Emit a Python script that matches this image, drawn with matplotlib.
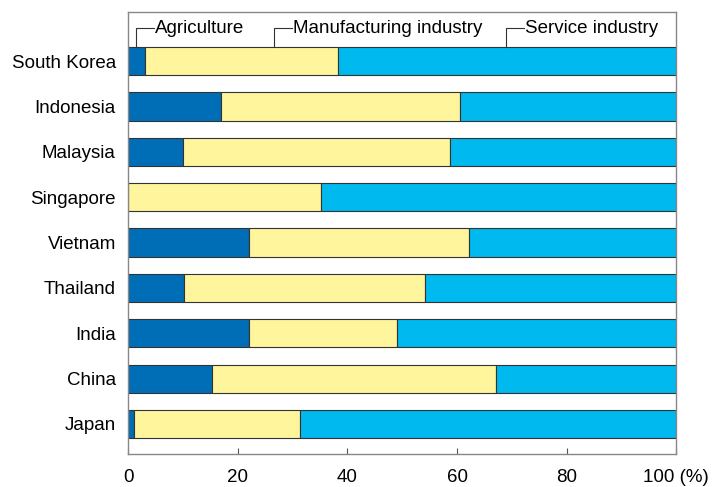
import matplotlib
matplotlib.use("Agg")
from matplotlib import pyplot as plt

plt.rcParams['font.family'] = ['Liberation Sans', 'DejaVu Sans']

countries = ['Japan', 'China', 'India', 'Thailand', 'Vietnam',
             'Singapore', 'Malaysia', 'Indonesia', 'South Korea']
agriculture = [1.1, 15.2, 22.1, 10.1, 22.1, 0.0, 10.0, 17.0, 3.0]
manufacturing = [30.3, 52.0, 27.0, 44.0, 40.0, 35.1, 48.7, 43.5, 35.2]
service = [100 - a - m for a, m in zip(agriculture, manufacturing)]

sector_names = ['Agriculture', 'Manufacturing industry', 'Service industry']
colores = ['#006eb6', '#fff59d', '#00b9ef']
ticks = [0, 20, 40, 60, 80, 100]
tick_labels = ['0', '20', '40', '60', '80', '100 (%)']

fig = plt.figure(figsize=(7.17, 4.87), dpi=100)
ax = fig.add_axes([0.179, 0.068, 0.764, 0.907])

y = list(range(len(countries)))
esquerda = [0] * len(countries)
for valores, cor in zip([agriculture, manufacturing, service], colores):
    ax.barh(y, valores, left=esquerda, height=0.62, color=cor,
            edgecolor='#333333', linewidth=0.8)
    esquerda = [e + v for e, v in zip(esquerda, valores)]

ax.set_xlim(0, 100)
ax.set_ylim(-0.66, 9.08)
ax.set_yticks(y)
ax.set_yticklabels(countries, fontsize=13.5)
ax.tick_params(axis='y', length=0, pad=9)
ax.set_xticks(ticks)
ax.set_xticklabels(tick_labels, fontsize=13.5)
ax.tick_params(axis='x', direction='in', length=4, color='#555555', pad=11)
for s in ax.spines.values():
    s.set_color('#888888')
    s.set_linewidth(1.0)

# bracket-style labels above the top bar
topo = 8 + 0.31
nivel = 8.73
for x0, nome in zip([1.4, 26.6, 69.0], sector_names):
    ax.plot([x0, x0, x0 + 3.3], [topo, nivel, nivel], color='#333333', lw=0.8)
    ax.text(x0 + 3.4, nivel, nome, fontsize=13.5, va='center', ha='left')

fig.savefig('out.png', dpi=100)
